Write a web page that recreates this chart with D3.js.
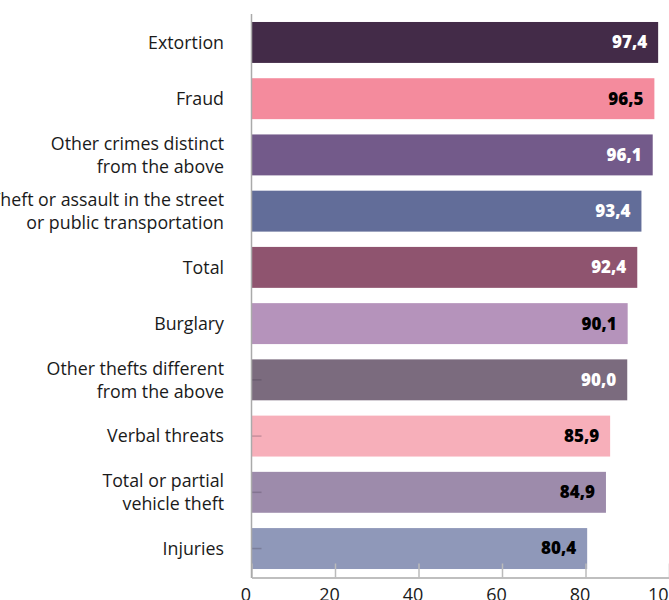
<!DOCTYPE html>
<html>
<head>
<meta charset="utf-8">
<script src="https://cdn.jsdelivr.net/npm/d3@7"></script>
<style>
  body { margin: 0; background: #fff; }
  svg { display: block; }
  .cat { font-family: "Open Sans", sans-serif; font-size: 17.8px; fill: #1a1a1a; }
  .val { font-family: "Open Sans", sans-serif; font-size: 17px; font-weight: 800; }
  .xaxis text { font-family: "Open Sans", sans-serif; font-size: 18px; fill: #1a1a1a; }
</style>
</head>
<body>
<svg id="chart" width="669" height="600"></svg>
<script>
// data
var categories = [
  'Extortion',
  'Fraud',
  'Other crimes distinct\nfrom the above',
  'Theft or assault in the street\nor public transportation',
  'Total',
  'Burglary',
  'Other thefts different\nfrom the above',
  'Verbal threats',
  'Total or partial\nvehicle theft',
  'Injuries'
];
var values = [97.4, 96.5, 96.1, 93.4, 92.4, 90.1, 90.0, 85.9, 84.9, 80.4];
var xTicks = [0, 20, 40, 60, 80, 100];

var palette = ['#432b48', '#f48b9d', '#735a8a', '#626d99', '#8f546f',
               '#b593bb', '#7b6b7e', '#f7afba', '#9d8bab', '#8f98b9'];

var width = 669, height = 600;
var svg = d3.select('#chart');

var x = d3.scaleLinear().domain([0, 100]).range([251.5, 669]);
var y = d3.scaleBand().domain(categories).range([14, 577])
  .paddingInner(0.272).paddingOuter(0.142);

var fmt = function(v){ return d3.format('.1f')(v).replace('.', ','); };

// bars
var bars = svg.append('g').selectAll('rect')
  .data(values)
  .enter().append('rect')
  .attr('x', x(0))
  .attr('y', function(d, i){ return y(categories[i]); })
  .attr('width', function(d){ return x(d) - x(0); })
  .attr('height', y.bandwidth())
  .attr('fill', function(d, i){ return palette[i]; });

// small inner ticks only show through the lighter lower bars
svg.append('g')
  .attr('transform', 'translate(' + x(0) + ',0)')
  .call(d3.axisRight(y).tickValues(categories.slice(6)).tickSize(10).tickFormat(''))
  .call(function(g){
    g.select('.domain').remove();
    g.selectAll('line').attr('stroke', '#3c2f44').attr('stroke-opacity', 0.25).attr('stroke-width', 1.5);
  });

// x axis with inward ticks
var xAxis = svg.append('g')
  .attr('class', 'xaxis')
  .attr('transform', 'translate(0,577.5)')
  .call(d3.axisBottom(x).tickValues(xTicks).tickSize(-14).tickPadding(10.5).tickSizeOuter(0));
xAxis.select('.domain').attr('stroke', '#aaa').attr('stroke-width', 1.5);
xAxis.selectAll('.tick line').attr('stroke', '#bbb').attr('stroke-width', 1.5);
xAxis.selectAll('.tick text').attr('dx', -6);

// left axis line
svg.append('line')
  .attr('x1', x(0)).attr('x2', x(0))
  .attr('y1', 14).attr('y2', 578)
  .attr('stroke', '#aaa').attr('stroke-width', 1.5);

// category labels, right aligned, multi line
var lineH = 23;
svg.append('g').selectAll('text')
  .data(categories)
  .enter().append('text')
  .attr('class', 'cat')
  .attr('text-anchor', 'end')
  .each(function(d){
    var lines = d.split('\n');
    var cy = y(d) + y.bandwidth() / 2;
    var t = d3.select(this);
    lines.forEach(function(l, j){
      t.append('tspan')
        .attr('x', 224)
        .attr('y', cy + (j - (lines.length - 1) / 2) * lineH)
        .attr('dy', '0.35em')
        .text(l);
    });
  });

// value labels inside bar ends
svg.append('g').selectAll('text')
  .data(values)
  .enter().append('text')
  .attr('class', 'val')
  .attr('text-anchor', 'end')
  .attr('x', function(d){ return x(d) - 11; })
  .attr('y', function(d, i){ return y(categories[i]) + y.bandwidth() / 2; })
  .attr('dy', '0.35em')
  .attr('fill', function(d, i){ return d3.lab(palette[i]).l > 55 ? '#000' : '#fff'; })
  .text(fmt);
</script>
</body>
</html>
